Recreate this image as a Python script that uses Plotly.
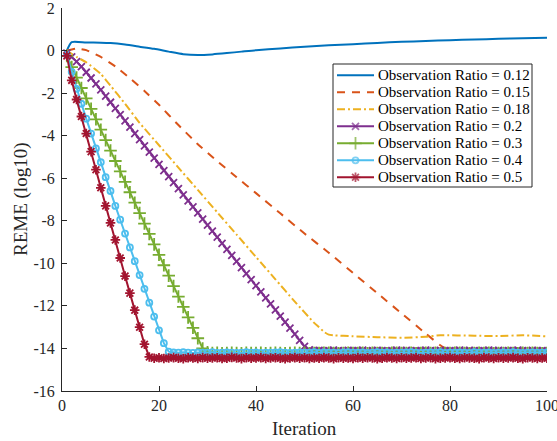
import plotly.graph_objects as go

# ---------------- data ----------------
# Line-only series: sampled iterations and values
iter_012 = [1, 2, 5, 8, 10, 13, 16, 19, 22, 25, 28, 31, 34, 37, 40, 45, 50, 55, 60, 65, 70, 75, 80, 85, 90, 95, 100]
ratio_012 = [0.0, 0.4, 0.38, 0.37, 0.35, 0.28, 0.18, 0.08, -0.05, -0.17, -0.21, -0.18, -0.12, -0.05, 0.02,
             0.1, 0.18, 0.25, 0.3, 0.36, 0.41, 0.45, 0.49, 0.52, 0.55, 0.58, 0.6]

iter_015 = [1, 3, 5, 8, 11, 14, 17, 20, 24, 28, 32, 36, 40, 45, 50, 55, 60, 65, 70, 75, 78, 80, 85, 90, 95, 100]
ratio_015 = [0.0, 0.1, 0.02, -0.3, -0.75, -1.3, -1.9, -2.55, -3.5, -4.4, -5.2, -5.95, -6.7, -7.65, -8.6,
             -9.5, -10.45, -11.4, -12.35, -13.3, -13.85, -14.1, -14.12, -14.1, -14.12, -14.1]

iter_018 = [1, 3, 5, 8, 10, 13, 16, 20, 24, 28, 32, 36, 40, 44, 48, 52, 53, 54, 55, 56, 60, 65, 70, 75, 78, 85, 90, 95, 100]
ratio_018 = [0.0, -0.3, -0.55, -1.1, -1.65, -2.5, -3.4, -4.45, -5.5, -6.55, -7.6, -8.65, -9.7, -10.75, -11.8,
             -12.8, -13.0, -13.22, -13.35, -13.38, -13.43, -13.47, -13.5, -13.45, -13.38, -13.4, -13.42, -13.38, -13.43]

# Marker series: one value per iteration 1..100
ratio_02 = [-0.12, -0.3, -0.52, -0.76, -1.02, -1.29, -1.57, -1.85, -2.14, -2.43,
            -2.72, -3.01, -3.3, -3.6, -3.9, -4.19, -4.48, -4.77, -5.06, -5.35,
            -5.64, -5.92, -6.21, -6.49, -6.78, -7.06, -7.35, -7.63, -7.92, -8.2,
            -8.49, -8.77, -9.06, -9.34, -9.63, -9.91, -10.2, -10.48, -10.77, -11.05,
            -11.34, -11.62, -11.91, -12.19, -12.48, -12.76, -13.05, -13.33, -13.62, -13.9,
            -14.07, -14.1, -14.09, -14.11, -14.1, -14.08, -14.1, -14.11, -14.09, -14.1,
            -14.1, -14.08, -14.11, -14.1, -14.09, -14.1, -14.11, -14.1, -14.08, -14.1,
            -14.09, -14.11, -14.1, -14.1, -14.08, -14.1, -14.11, -14.09, -14.1, -14.1,
            -14.11, -14.08, -14.1, -14.09, -14.1, -14.11, -14.1, -14.08, -14.1, -14.09,
            -14.11, -14.1, -14.1, -14.08, -14.1, -14.11, -14.09, -14.1, -14.1, -14.11]

ratio_03 = [-0.25, -0.78, -1.27, -1.76, -2.25, -2.74, -3.23, -3.72, -4.21, -4.7,
            -5.19, -5.68, -6.17, -6.66, -7.15, -7.64, -8.13, -8.62, -9.11, -9.6,
            -10.09, -10.58, -11.07, -11.56, -12.05, -12.54, -13.03, -13.52, -14.0, -14.18,
            -14.22, -14.21, -14.23, -14.22, -14.2, -14.22, -14.23, -14.21, -14.22, -14.22,
            -14.2, -14.23, -14.22, -14.21, -14.22, -14.23, -14.22, -14.2, -14.22, -14.21,
            -14.23, -14.22, -14.22, -14.21, -14.2, -14.22, -14.23, -14.22, -14.21, -14.22,
            -14.22, -14.2, -14.23, -14.21, -14.22, -14.22, -14.23, -14.21, -14.2, -14.22,
            -14.22, -14.21, -14.23, -14.22, -14.2, -14.22, -14.21, -14.23, -14.22, -14.22,
            -14.21, -14.2, -14.22, -14.23, -14.22, -14.21, -14.22, -14.2, -14.23, -14.22,
            -14.22, -14.21, -14.22, -14.23, -14.2, -14.22, -14.21, -14.22, -14.23, -14.22]

ratio_04 = [-0.2, -1.0, -1.8, -2.5, -3.2, -3.9, -4.6, -5.25, -5.95, -6.6,
            -7.3, -7.95, -8.6, -9.25, -9.9, -10.55, -11.2, -11.85, -12.5, -13.15,
            -13.75, -14.15, -14.19, -14.2, -14.18, -14.2, -14.21, -14.19, -14.2, -14.2,
            -14.18, -14.21, -14.2, -14.19, -14.2, -14.21, -14.2, -14.18, -14.2, -14.19,
            -14.21, -14.2, -14.2, -14.19, -14.18, -14.2, -14.21, -14.2, -14.19, -14.2,
            -14.2, -14.18, -14.21, -14.19, -14.2, -14.2, -14.21, -14.19, -14.18, -14.2,
            -14.2, -14.19, -14.21, -14.2, -14.18, -14.2, -14.19, -14.21, -14.2, -14.2,
            -14.19, -14.18, -14.2, -14.21, -14.2, -14.19, -14.2, -14.18, -14.21, -14.2,
            -14.2, -14.19, -14.2, -14.21, -14.18, -14.2, -14.2, -14.19, -14.21, -14.2,
            -14.19, -14.2, -14.18, -14.2, -14.21, -14.2, -14.19, -14.2, -14.2, -14.19]

ratio_05 = [-0.25, -1.4, -2.3, -3.1, -3.9, -4.75, -5.6, -6.45, -7.3, -8.1,
            -8.9, -9.75, -10.6, -11.4, -12.2, -13.0, -13.8, -14.4, -14.46, -14.44,
            -14.47, -14.45, -14.43, -14.46, -14.48, -14.44, -14.45, -14.47, -14.43, -14.46,
            -14.45, -14.44, -14.47, -14.46, -14.42, -14.45, -14.48, -14.44, -14.46, -14.45,
            -14.43, -14.47, -14.45, -14.44, -14.46, -14.48, -14.45, -14.43, -14.46, -14.44,
            -14.47, -14.45, -14.46, -14.43, -14.45, -14.48, -14.44, -14.46, -14.45, -14.47,
            -14.43, -14.46, -14.44, -14.45, -14.48, -14.46, -14.43, -14.45, -14.47, -14.44,
            -14.46, -14.45, -14.43, -14.47, -14.45, -14.44, -14.48, -14.46, -14.45, -14.43,
            -14.46, -14.47, -14.44, -14.45, -14.46, -14.48, -14.43, -14.45, -14.47, -14.44,
            -14.46, -14.45, -14.43, -14.46, -14.48, -14.44, -14.45, -14.47, -14.45, -14.46]

x_ticks = [0, 20, 40, 60, 80, 100]
x_labels = ["0", "20", "40", "60", "80", "100"]
y_ticks = [-16, -14, -12, -10, -8, -6, -4, -2, 0, 2]
y_labels = ["-16", "-14", "-12", "-10", "-8", "-6", "-4", "-2", "0", "2"]

names = ["Observation Ratio = 0.12", "Observation Ratio = 0.15", "Observation Ratio = 0.18",
         "Observation Ratio = 0.2", "Observation Ratio = 0.3", "Observation Ratio = 0.4",
         "Observation Ratio = 0.5"]

# ---------------- figure ----------------
C = ["#0072BD", "#D95319", "#EDB120", "#7E2F8E", "#77AC30", "#4DBEEE", "#A2142F"]
DASH = ["solid", "8px,7px", "8px,3px,2px,3px", "solid", "solid", "solid", "solid"]
SYM = [None, None, None, "x-thin", "cross-thin", "circle-open", "asterisk"]
SIZE = [0, 0, 0, 7, 9, 6, 8]
FONT = "Liberation Serif, Times New Roman, serif"
TXT = "#262626"

W, H = 557, 441
ML, MR, MT, MB = 62, 10, 8, 50
PW, PH = W - ML - MR, H - MT - MB

fig = go.Figure()

line_series = [(iter_012, ratio_012, 0.6), (iter_015, ratio_015, 0.4), (iter_018, ratio_018, 0.4)]
for i, (xs, ys, sm) in enumerate(line_series):
    fig.add_trace(go.Scatter(x=xs, y=ys, mode="lines", name=names[i], showlegend=False,
                             line=dict(color=C[i], width=2, dash=DASH[i], shape="spline", smoothing=sm)))

marker_series = [ratio_02, ratio_03, ratio_04, ratio_05]
for j, vals in enumerate(marker_series):
    i = 3 + j
    fig.add_trace(go.Scatter(x=list(range(1, len(vals) + 1)), y=vals, mode="lines+markers",
                             name=names[i], showlegend=False,
                             line=dict(color=C[i], width=2),
                             marker=dict(symbol=SYM[i], size=SIZE[i], color=C[i],
                                         line=dict(color=C[i], width=1.8))))

# ---------------- custom legend (MATLAB-like compact layout) ----------------
def px2x(px):
    return (px - ML) / PW

def py2y(py):
    return (H - MB - py) / PH

box_l, box_r, box_t, box_b = 333, 532, 64, 187
row0, row_gap = 75.3, 17.0
s_x0, s_x1, t_x = 337, 374, 376

shapes = [dict(type="rect", xref="paper", yref="paper",
               x0=px2x(box_l), x1=px2x(box_r), y0=py2y(box_b), y1=py2y(box_t),
               line=dict(color=TXT, width=1), fillcolor="white", layer="below")]
annotations = []
leg_mx, leg_my, leg_sym, leg_col, leg_size = [], [], [], [], []
for i, nm in enumerate(names):
    py = row0 + row_gap * i
    shapes.append(dict(type="line", xref="paper", yref="paper",
                       x0=px2x(s_x0), x1=px2x(s_x1), y0=py2y(py), y1=py2y(py),
                       line=dict(color=C[i], width=2, dash=DASH[i]), layer="below"))
    annotations.append(dict(text=nm, xref="paper", yref="paper", x=px2x(t_x), y=py2y(py),
                            xanchor="left", yanchor="middle", showarrow=False,
                            font=dict(family=FONT, size=15, color="#000000")))
    if SYM[i]:
        leg_mx.append(px2x((s_x0 + s_x1) / 2))
        leg_my.append(py2y(py))
        leg_sym.append(SYM[i])
        leg_col.append(C[i])
        leg_size.append(SIZE[i])

fig.add_trace(go.Scatter(x=leg_mx, y=leg_my, xaxis="x2", yaxis="y2", mode="markers",
                         showlegend=False, hoverinfo="skip",
                         marker=dict(symbol=leg_sym, size=leg_size, color=leg_col,
                                     line=dict(color=leg_col, width=1.8))))

# axis titles
annotations.append(dict(text="Iteration", xref="paper", yref="paper", x=0.5, y=py2y(428),
                        xanchor="center", yanchor="middle", showarrow=False,
                        font=dict(family=FONT, size=19, color=TXT)))
annotations.append(dict(text="REME (log10)", xref="paper", yref="paper", x=px2x(21), y=py2y(200),
                        xanchor="center", yanchor="middle", showarrow=False, textangle=-90,
                        font=dict(family=FONT, size=19, color=TXT)))

axis_common = dict(showline=True, linecolor=TXT, linewidth=1, showgrid=False, zeroline=False,
                   ticks="inside", ticklen=5, tickcolor=TXT, mirror=False, automargin=False,
                   ticklabeloverflow="allow",
                   tickfont=dict(family=FONT, size=16, color=TXT))

fig.update_layout(
    width=W, height=H,
    margin=dict(l=ML, r=MR, t=MT, b=MB, autoexpand=False),
    paper_bgcolor="white", plot_bgcolor="white",
    font=dict(family=FONT, color=TXT),
    xaxis=dict(range=[0, 100], tickvals=x_ticks, ticktext=x_labels, ticklabelstandoff=0, **axis_common),
    yaxis=dict(range=[-16, 2], tickvals=y_ticks, ticktext=y_labels, ticklabelstandoff=3, **axis_common),
    xaxis2=dict(range=[0, 1], overlaying="x", visible=False, fixedrange=True),
    yaxis2=dict(range=[0, 1], overlaying="y", visible=False, fixedrange=True),
    shapes=shapes,
    annotations=annotations,
    showlegend=False,
)

# remove the browser's default 8px page margin so the figure sits at the window origin
fig.write_html("out.html", config={"displayModeBar": False},
               post_script="document.body.style.margin='0px';")
